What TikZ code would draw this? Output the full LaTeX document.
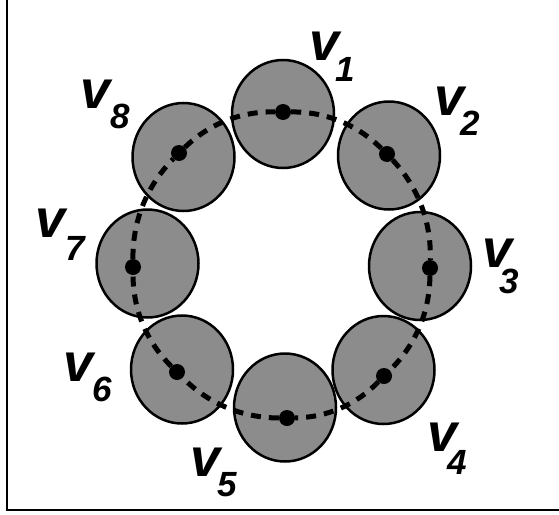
\documentclass[tikz,border=0pt]{standalone}
\usepackage{fontspec}
\setmainfont{Liberation Sans}
\usetikzlibrary{shapes.geometric}
\definecolor{grisdisco}{RGB}{140,140,140}
\newcommand{\vnom}[3]{\textit{v}\kern#2\raisebox{-#3}{\fontsize{35pt}{35pt}\selectfont #1}}

\begin{document}
\begin{tikzpicture}[x=1pt, y=1pt,
  disco/.style={ellipse, draw=black, fill=grisdisco, line width=2.5pt,
    minimum width=102pt, minimum height=108pt, inner sep=0pt},
  punto/.style={circle, fill=black, minimum size=16pt, inner sep=0pt},
  anillo/.style={line width=5pt, dash pattern=on 10pt off 8pt, black},
  etiqueta/.style={anchor=base west, inner sep=0pt,
    font=\fontsize{54pt}{54pt}\selectfont\bfseries\itshape},
]
  \useasboundingbox (0,0) rectangle (559,-514);
  % Marco
  \draw[line width=2.5pt] (7,0) -- (7,-510) -- (559,-510);
  % Discos
  \node[disco] (c1) at (283,-114) {};
  \node[disco] (c2) at (389,-155.5) {};
  \node[disco] (c3) at (420,-266) {};
  \node[disco] (c4) at (383.5,-370) {};
  \node[disco] (c5) at (285,-407.5) {};
  \node[disco] (c6) at (182,-369.5) {};
  \node[disco] (c7) at (147.5,-263.5) {};
  \node[disco] (c8) at (183.5,-157) {};
  % Puntos
  \node[punto] (p1) at (283,-112) {};
  \node[punto] (p2) at (387,-154) {};
  \node[punto] (p3) at (430,-268) {};
  \node[punto] (p4) at (384,-376) {};
  \node[punto] (p5) at (287,-418) {};
  \node[punto] (p6) at (177,-372) {};
  \node[punto] (p7) at (133,-267) {};
  \node[punto] (p8) at (179,-153) {};
  % Anillo punteado
  \foreach \a/\b in {p1/p2, p2/p3, p3/p4, p4/p5, p5/p6, p6/p7, p7/p8, p8/p1}
    \draw[anillo] (\a) to[bend left=22.5, looseness=0.9] (\b);
  % Etiquetas
  \node[etiqueta] (l1) at (309,-60) {\vnom{1}{-4pt}{21pt}};
  \node[etiqueta] (l2) at (434,-115) {\vnom{2}{-4pt}{20pt}};
  \node[etiqueta] (l3) at (482,-267) {\vnom{3}{-13pt}{26pt}};
  \node[etiqueta] (l4) at (427,-451) {\vnom{4}{-10pt}{23pt}};
  \node[etiqueta] (l5) at (190,-476) {\vnom{5}{-3pt}{20pt}};
  \node[etiqueta] (l6) at (63,-381) {\vnom{6}{-1pt}{20pt}};
  \node[etiqueta] (l7) at (35,-237) {\vnom{7}{0pt}{23pt}};
  \node[etiqueta] (l8) at (80,-108) {\vnom{8}{0pt}{20pt}};
\end{tikzpicture}
\end{document}
